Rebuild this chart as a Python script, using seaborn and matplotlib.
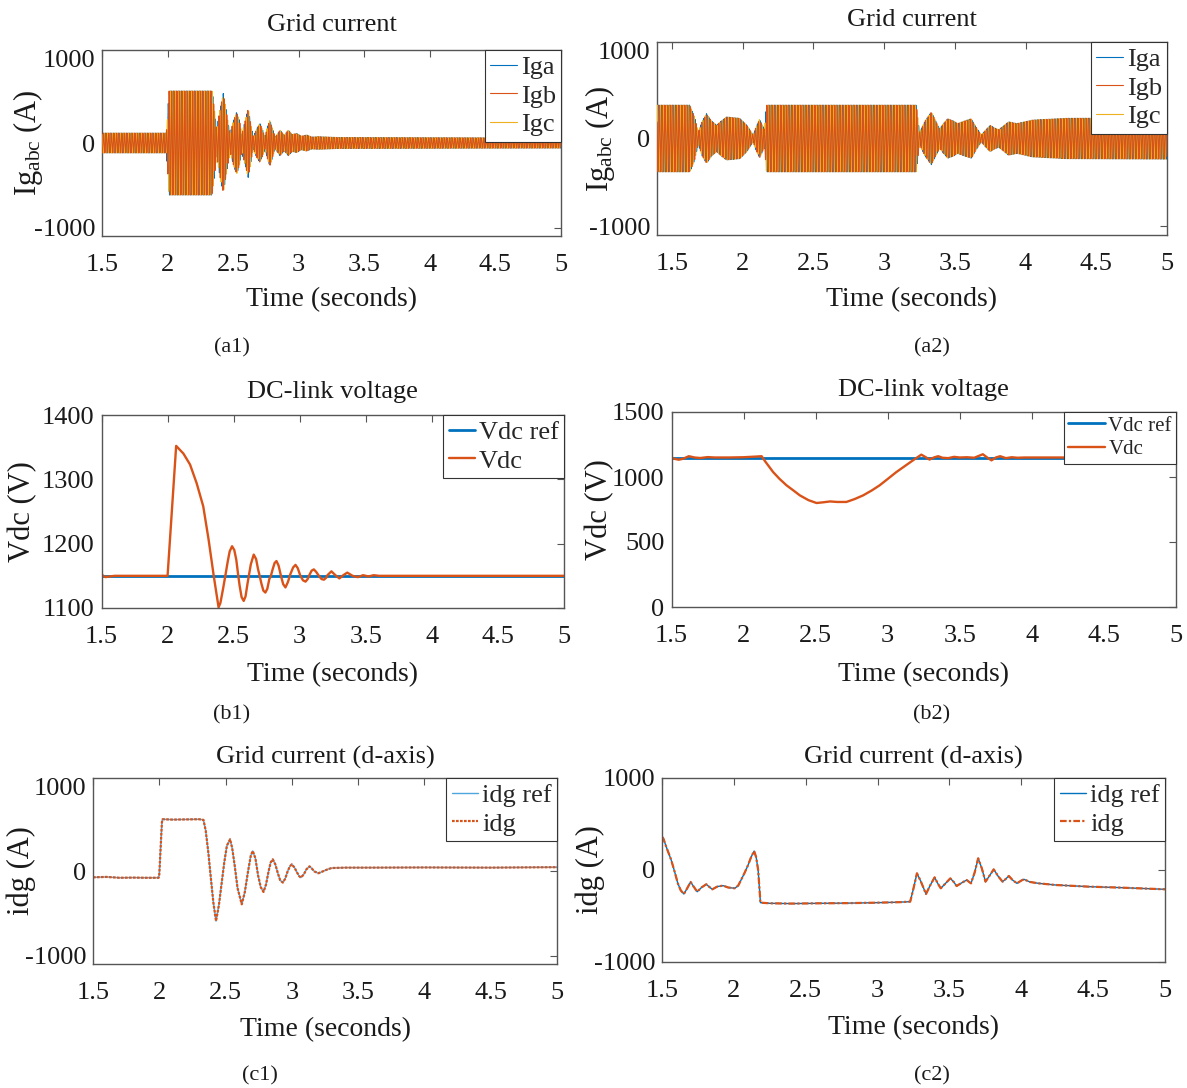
import numpy as np
import pandas as pd
import seaborn as sns
import matplotlib
matplotlib.use("Agg")
import matplotlib.pyplot as plt
from matplotlib.ticker import FormatStrFormatter

# ---------------- data ----------------
F_GRID = 50.0  # Hz, grid frequency of the three-phase currents

# (a1) envelope of the three-phase grid currents
a1_env_t = [1.5, 1.99, 2.0, 2.01, 2.34, 2.36, 2.374, 2.40, 2.425, 2.45, 2.476, 2.50, 2.527,
            2.55, 2.565, 2.59, 2.615, 2.635, 2.653, 2.68, 2.704, 2.725, 2.742, 2.76, 2.78,
            2.80, 2.82, 2.84, 2.857, 2.89, 2.92, 2.95, 2.984, 3.02, 3.06, 3.10, 3.15, 3.3, 5.0]
a1_env_a = [117, 117, 300, 615, 615, 350, 150, 400, 585, 350, 100, 250, 366,
            250, 100, 250, 406, 220, 70, 170, 230, 150, 70, 180, 270,
            170, 70, 110, 152, 90, 152, 100, 113, 80, 95, 70, 75, 65, 60]

# (a2) envelope of the three-phase grid currents
a2_env_t = [1.395, 1.627, 1.66, 1.686, 1.715, 1.745, 1.78, 1.816, 1.85, 1.886, 1.98, 2.03,
            2.074, 2.10, 2.12, 2.14, 2.155, 2.169, 3.228, 3.25, 3.29, 3.334, 3.365, 3.393,
            3.42, 3.45, 3.49, 3.52, 3.57, 3.617, 3.65, 3.687, 3.72, 3.75, 3.78, 3.81, 3.85,
            3.88, 3.94, 4.05, 4.29, 5.0]
a2_env_a = [380, 380, 250, 70, 200, 282, 200, 150, 200, 245, 230, 150,
            40, 150, 220, 150, 100, 380, 380, 70, 200, 301, 200, 110,
            170, 225, 200, 170, 200, 225, 130, 40, 100, 150, 120, 100, 150,
            190, 170, 210, 230, 235]

# (b1) DC-link voltage
b1_t = [1.5, 1.53, 1.56, 1.6, 1.7, 1.8, 1.9, 2.0, 2.065, 2.12, 2.17, 2.22, 2.27, 2.31, 2.35,
        2.386, 2.40, 2.42, 2.437, 2.455, 2.47, 2.488, 2.505, 2.52, 2.532, 2.545, 2.56, 2.576,
        2.59, 2.605, 2.615, 2.63, 2.652, 2.67, 2.685, 2.697, 2.71, 2.725, 2.74, 2.755, 2.77,
        2.782, 2.795, 2.81, 2.824, 2.84, 2.858, 2.875, 2.892, 2.91, 2.93, 2.95, 2.968, 2.985,
        3.005, 3.025, 3.044, 3.06, 3.075, 3.09, 3.107, 3.125, 3.145, 3.165, 3.183, 3.2, 3.21,
        3.24, 3.27, 3.30, 3.33, 3.36, 3.40, 3.44, 3.48, 3.52, 3.56, 3.6, 5.0]
b1_vdc = [1152, 1148, 1149, 1150, 1150, 1150, 1150, 1150, 1352, 1340, 1323, 1294, 1258, 1207, 1149,
          1101, 1108, 1130, 1150, 1172, 1188, 1196, 1190, 1175, 1155, 1135, 1117, 1111,
          1118, 1138, 1150, 1168, 1183, 1176, 1160, 1150, 1138, 1127, 1124, 1130, 1145,
          1150, 1160, 1170, 1173, 1166, 1150, 1137, 1132, 1140, 1153, 1163, 1167, 1162,
          1150, 1143, 1141, 1145, 1152, 1158, 1160, 1156, 1150, 1145, 1144, 1147, 1151,
          1157, 1151, 1146, 1151, 1155, 1150, 1148, 1151, 1149, 1151, 1150, 1150]
b1_ref = 1150

# (b2) DC-link voltage
b2_t = [1.5, 1.52, 1.55, 1.58, 1.62, 1.66, 1.70, 1.75, 1.8, 1.9, 2.0, 2.1, 2.125, 2.15, 2.205,
        2.25, 2.298, 2.35, 2.39, 2.45, 2.506, 2.55, 2.6, 2.65, 2.713, 2.77, 2.83, 2.89, 2.944,
        3.0, 3.06, 3.12, 3.175, 3.233, 3.26, 3.29, 3.32, 3.35, 3.38, 3.42, 3.46, 3.5, 3.55,
        3.6, 3.66, 3.69, 3.72, 3.75, 3.78, 3.82, 3.86, 3.9, 3.95, 4.0, 5.0]
b2_vdc = [1150, 1140, 1133, 1140, 1160, 1150, 1146, 1153, 1150, 1150, 1152, 1158, 1160, 1120, 1038,
          985, 936, 893, 859, 822, 800, 805, 812, 808, 808, 830, 859, 897, 936,
          985, 1038, 1085, 1128, 1172, 1155, 1134, 1150, 1160, 1148, 1145, 1155, 1150, 1152,
          1148, 1175, 1150, 1128, 1150, 1160, 1145, 1152, 1148, 1150, 1150, 1150]
b2_ref = 1150

# (c1) d-axis grid current
c1_t = [1.5, 1.6, 1.7, 1.8, 1.9, 1.995, 2.0, 2.02, 2.025, 2.1, 2.2, 2.3, 2.333, 2.35, 2.37,
        2.39, 2.408, 2.428, 2.45, 2.471, 2.49, 2.51, 2.534, 2.55, 2.57, 2.59, 2.622, 2.645,
        2.67, 2.69, 2.705, 2.725, 2.745, 2.765, 2.786, 2.805, 2.825, 2.84, 2.856, 2.875,
        2.895, 2.912, 2.932, 2.95, 2.968, 2.985, 3.0, 3.02, 3.04, 3.055, 3.068, 3.09, 3.11,
        3.133, 3.15, 3.17, 3.2, 3.24, 3.27, 3.3, 3.4, 3.6, 4.0, 4.5, 5.0]
c1_idg = [-75, -70, -80, -78, -80, -80, -40, 580, 612, 608, 610, 612, 605, 480, 218,
          -100, -374, -592, -400, -137, 100, 300, 375, 270, 50, -200, -394, -250,
          0, 180, 237, 150, -50, -190, -248, -160, 0, 100, 138, 80,
          -30, -110, -137, -90, -5, 55, 79, 40, -20, -60, -78, -40, 20,
          55, 30, -5, -27, 0, 20, 35, 40, 40, 42, 40, 45]

# (c2) d-axis grid current
c2_t = [1.5, 1.51, 1.53, 1.564, 1.59, 1.61, 1.63, 1.652, 1.675, 1.699, 1.72, 1.745, 1.775,
        1.808, 1.83, 1.85, 1.885, 1.925, 1.96, 2.006, 2.03, 2.05, 2.075, 2.099, 2.12, 2.141,
        2.155, 2.169, 2.185, 2.25, 2.4, 2.6, 2.8, 3.0, 3.15, 3.227, 3.25, 3.274, 3.30, 3.337,
        3.365, 3.397, 3.42, 3.44, 3.47, 3.506, 3.53, 3.55, 3.585, 3.62, 3.65, 3.675, 3.70,
        3.725, 3.751, 3.78, 3.808, 3.84, 3.87, 3.89, 3.913, 3.94, 3.97, 4.0, 4.018, 4.06,
        4.12, 4.239, 4.47, 4.7, 5.0]
c2_idg = [362, 340, 250, 109, -30, -145, -220, -261, -200, -130, -180, -236, -190,
          -155, -185, -210, -180, -170, -190, -199, -170, -109, -30, 54, 140, 206,
          140, 0, -355, -362, -365, -362, -360, -355, -350, -344, -200, -36, -120, -261,
          -170, -80, -150, -199, -150, -91, -130, -174, -140, -109, -145, -30, 127,
          20, -127, -60, 7, -70, -127, -100, -65, -110, -145, -115, -101, -130,
          -145, -163, -181, -192, -210]

time_ticks = [1.5, 2, 2.5, 3, 3.5, 4, 4.5, 5]
phase_labels = ["Iga", "Igb", "Igc"]

# ---------------- style ----------------
sns.set_theme(style="white")
plt.rcParams["font.family"] = ["Liberation Serif", "DejaVu Serif"]
plt.rcParams["mathtext.fontset"] = "custom"
plt.rcParams["mathtext.rm"] = "Liberation Serif"
plt.rcParams["mathtext.it"] = "Liberation Serif:italic"

C_BLUE = "#0072BD"
C_ORANGE = "#D95319"
C_YELLOW = "#EDB120"
SPINE = "#555555"
TXT = "#1a1a1a"

W, H = 1187, 1088
fig = plt.figure(figsize=(W / 100, H / 100), dpi=100)
fig.patch.set_facecolor("white")


def add_ax(l, r, t, b):
    return fig.add_axes([l / W, 1 - b / H, (r - l) / W, (b - t) / H])


def style_ax(ax, xlim, ylim, yticks, title, title_dy, ylabel, ylab_x, xlab_y):
    ax.set_xlim(*xlim)
    ax.set_ylim(*ylim)
    ax.set_xticks(time_ticks)
    ax.set_yticks(yticks)
    ax.xaxis.set_major_formatter(FormatStrFormatter("%g"))
    ax.yaxis.set_major_formatter(FormatStrFormatter("%g"))
    ax.tick_params(direction="in", length=5, width=0.8, top=True, right=True,
                   labelsize=19, colors=SPINE, labelcolor=TXT)
    ax.tick_params(axis="x", pad=13)
    ax.tick_params(axis="y", pad=5)
    for s in ax.spines.values():
        s.set_visible(True)
        s.set_color(SPINE)
        s.set_linewidth(1.0)
    ax.set_title(title, fontsize=19, y=1 + title_dy, va="center", pad=0, color=TXT)
    ax.set_xlabel("Time (seconds)", fontsize=20, va="center", color=TXT)
    ax.xaxis.set_label_coords(0.5, xlab_y)
    ax.set_ylabel(ylabel, fontsize=22, va="center", color=TXT)
    ax.yaxis.set_label_coords(ylab_x, 0.5)
    ax.set_facecolor("white")


def legend(ax, size=19, hl=1.0):
    lg = ax.legend(loc="upper right", bbox_to_anchor=(1, 1), borderaxespad=0,
                   fontsize=size, handlelength=hl, handletextpad=0.15,
                   labelspacing=0.2, borderpad=0.2, fancybox=False,
                   framealpha=1, edgecolor="#333333")
    lg.get_frame().set_linewidth(0.8)
    lg.set_zorder(10)


def three_phase(env_t, env_a, t0, t1):
    t = np.arange(t0, t1 + 1e-9, 1 / 2000)
    amp = np.interp(t, env_t, env_a)
    th = 2 * np.pi * F_GRID * t
    cols = [amp * np.sin(th), amp * np.sin(th - 2 * np.pi / 3), amp * np.sin(th + 2 * np.pi / 3)]
    return pd.DataFrame({"t": t, phase_labels[0]: cols[0], phase_labels[1]: cols[1],
                         phase_labels[2]: cols[2]})


ylabel_ig = r"Ig$_{\rm abc}$ (A)"
phase_colors = [C_BLUE, C_ORANGE, C_YELLOW]
phase_z = [2, 4, 3]   # orange drawn on top, as in the reference

# ---------------- (a1) ----------------
ax = add_ax(102, 561, 50, 236)
df = three_phase(a1_env_t, a1_env_a, 1.5, 5.0)
for lab, col, z in zip(phase_labels, phase_colors, phase_z):
    sns.lineplot(data=df, x="t", y=lab, ax=ax, color=col, lw=0.8, label=lab, zorder=z,
                 estimator=None, errorbar=None)
style_ax(ax, (1.5, 5), (-1100, 1100), [-1000, 0, 1000], "Grid current", 0.134,
         ylabel_ig, -0.161, -0.344)
legend(ax)

# ---------------- (a2) ----------------
ax = add_ax(657, 1167, 42, 235)
df = three_phase(a2_env_t, a2_env_a, 1.395, 5.0)
for lab, col, z in zip(phase_labels, phase_colors, phase_z):
    sns.lineplot(data=df, x="t", y=lab, ax=ax, color=col, lw=0.8, label=lab, zorder=z,
                 estimator=None, errorbar=None)
style_ax(ax, (1.395, 5), (-1100, 1100), [-1000, 0, 1000], "Grid current", 0.114,
         ylabel_ig, -0.112, -0.337)
legend(ax)

# ---------------- (b1) ----------------
ax = add_ax(101.5, 564, 415, 608)
sns.lineplot(x=[b1_t[0], b1_t[-1]], y=[b1_ref, b1_ref], ax=ax, color=C_BLUE, lw=2.0,
             label="Vdc ref", estimator=None, errorbar=None)
sns.lineplot(x=b1_t, y=b1_vdc, ax=ax, color=C_ORANGE, lw=1.7, label="Vdc",
             estimator=None, errorbar=None)
style_ax(ax, (1.5, 5), (1100, 1400), [1100, 1200, 1300, 1400], "DC-link voltage", 0.119,
         "Vdc (V)", -0.17, -0.347)
legend(ax)

# ---------------- (b2) ----------------
ax = add_ax(671.5, 1176, 412, 607)
sns.lineplot(x=[b2_t[0], b2_t[-1]], y=[b2_ref, b2_ref], ax=ax, color=C_BLUE, lw=2.0,
             label="Vdc ref", estimator=None, errorbar=None)
sns.lineplot(x=b2_t, y=b2_vdc, ax=ax, color=C_ORANGE, lw=1.7, label="Vdc",
             estimator=None, errorbar=None)
style_ax(ax, (1.5, 5), (0, 1500), [0, 500, 1000, 1500], "DC-link voltage", 0.113,
         "Vdc (V)", -0.142, -0.349)
legend(ax, size=15, hl=1.8)

# ---------------- (c1) ----------------
ax = add_ax(93, 557, 778, 964)
sns.lineplot(x=c1_t, y=c1_idg, ax=ax, color="#4DA6E0", lw=1.0, label="idg ref",
             estimator=None, errorbar=None)
sns.lineplot(x=c1_t, y=c1_idg, ax=ax, color=C_ORANGE, lw=1.6, label="idg",
             linestyle=(0, (1.2, 0.6)), estimator=None, errorbar=None)
style_ax(ax, (1.5, 5), (-1100, 1100), [-1000, 0, 1000], "Grid current (d-axis)", 0.113,
         "idg (A)", -0.155, -0.355)
legend(ax)

# ---------------- (c2) ----------------
ax = add_ax(662, 1165, 778, 962)
sns.lineplot(x=c2_t, y=c2_idg, ax=ax, color=C_BLUE, lw=1.0, label="idg ref",
             estimator=None, errorbar=None)
sns.lineplot(x=c2_t, y=c2_idg, ax=ax, color=C_ORANGE, lw=1.6, label="idg",
             linestyle=(0, (3, 1, 1, 1)), estimator=None, errorbar=None)
style_ax(ax, (1.5, 5), (-1000, 1000), [-1000, 0, 1000], "Grid current (d-axis)", 0.114,
         "idg (A)", -0.143, -0.359)
legend(ax)

# ---------------- captions ----------------
for txt, x, y in [("(a1)", 232, 348), ("(a2)", 932, 348), ("(b1)", 232, 715),
                  ("(b2)", 932, 715), ("(c1)", 260, 1076), ("(c2)", 932, 1076)]:
    fig.text(x / W, 1 - y / H, txt, ha="center", va="center", fontsize=16, color=TXT)

fig.savefig("out.png", dpi=100, facecolor="white")
